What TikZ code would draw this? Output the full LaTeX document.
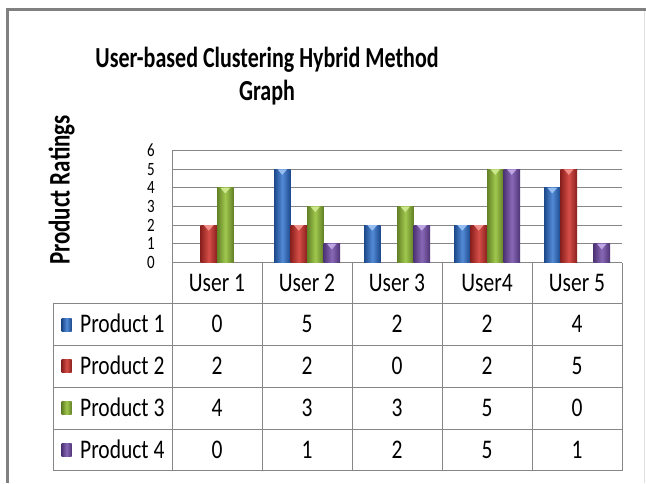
\documentclass[tikz,border=0pt]{standalone}
\usepackage{fontspec}
\setmainfont{Carlito}
\usepackage{graphicx}
\newcommand{\tall}[2][1.25]{\scalebox{1}[#1]{#2}}
\definecolor{gridgray}{RGB}{134,134,134}
\definecolor{framegray}{RGB}{128,128,128}
\definecolor{pblued}{RGB}{28,72,138}
\definecolor{pbluel}{RGB}{82,138,214}
\definecolor{pbluet}{RGB}{150,190,240}
\definecolor{predd}{RGB}{138,32,30}
\definecolor{predl}{RGB}{214,78,72}
\definecolor{predt}{RGB}{240,145,140}
\definecolor{pgreend}{RGB}{98,128,38}
\definecolor{pgreenl}{RGB}{160,200,78}
\definecolor{pgreent}{RGB}{205,232,140}
\definecolor{ppurpled}{RGB}{78,52,118}
\definecolor{ppurplel}{RGB}{136,104,182}
\definecolor{ppurplet}{RGB}{190,165,228}
\newcommand{\drawbar}[4]{%
  \pgfmathsetmacro\xl{184+90*#1+16.5*#2}%
  \pgfmathsetmacro\xr{\xl+16.5}%
  \pgfmathsetmacro\xm{\xl+8.25}%
  \pgfmathsetmacro\yt{262.5-18.63*#3}%
  \shade[left color=#4d, right color=#4d, middle color=#4l] (\xl,\yt) rectangle (\xr,262.5);
  \fill[#4t] (\xl+3.5,\yt) -- (\xr-3.5,\yt) -- (\xm,\yt+5.5) -- cycle;
}
\begin{document}
\begin{tikzpicture}[x=1pt,y=-1pt,
  gridline/.style={draw=gridgray, line width=1pt},
  cell/.style={anchor=base, inner sep=0pt, font=\fontsize{21.5}{24}\selectfont},
  tick/.style={anchor=base, inner sep=0pt, font=\fontsize{15}{17}\selectfont},
  titletext/.style={anchor=base, inner sep=0pt, font=\fontsize{22}{26}\selectfont\bfseries},
  legendbox/.style={inner sep=0pt, minimum width=10pt, minimum height=13pt, draw=none}
]
\useasboundingbox (0,0) rectangle (646,483);
\fill[white] (0,0) rectangle (646,483);
% frame
\draw[framegray, line width=2.5pt] (7.5,483) -- (7.5,9.5) -- (646,9.5);
\draw[gray!25, line width=0.8pt] (644.5,11) -- (644.5,483);
% title
\node[titletext] (t1) at (267,67) {\tall[1.32]{User-based Clustering Hybrid Method}};
\node[titletext] (t2) at (267,100) {\tall[1.32]{Graph}};
% y label
\node[rotate=90, anchor=base, inner sep=0pt, font=\fontsize{23}{26}\selectfont\bfseries] (ylab) at (69.5,190) {\tall[1.3]{Product Ratings}};
% gridlines and ticks
\foreach \k in {0,...,6} {
  \draw[gridline] (172,{262.5-18.63*\k}) -- (622,{262.5-18.63*\k});
  \node[tick] (tick\k) at (151,{262.5-18.63*\k+5.8}) {\tall{\k}};
}
% table lines
\foreach \y in {303.3,345.2,387.1,429.0,470.9}
  \draw[gridline] (53,\y) -- (622,\y);
\draw[gridline] (172,150.7) -- (172,470.9);
\foreach \x in {262,352,442,532,622}
  \draw[gridline] (\x,262.5) -- (\x,470.9);
\draw[gridline] (53,303.3) -- (53,470.9);
% bars
\drawbar{1}{0}{5}{pblue}
\drawbar{2}{0}{2}{pblue}
\drawbar{3}{0}{2}{pblue}
\drawbar{4}{0}{4}{pblue}
\drawbar{0}{1}{2}{pred}
\drawbar{1}{1}{2}{pred}
\drawbar{3}{1}{2}{pred}
\drawbar{4}{1}{5}{pred}
\drawbar{0}{2}{4}{pgreen}
\drawbar{1}{2}{3}{pgreen}
\drawbar{2}{2}{3}{pgreen}
\drawbar{3}{2}{5}{pgreen}
\drawbar{1}{3}{1}{ppurple}
\drawbar{2}{3}{2}{ppurple}
\drawbar{3}{3}{5}{ppurple}
\drawbar{4}{3}{1}{ppurple}
% header
\node[cell] (h1) at (217,291.5) {\tall{User 1}};
\node[cell] (h2) at (307,291.5) {\tall{User 2}};
\node[cell] (h3) at (397,291.5) {\tall{User 3}};
\node[cell] (h4) at (487,291.5) {\tall{User4}};
\node[cell] (h5) at (577,291.5) {\tall{User 5}};
% legend rows
\node[legendbox, left color=pblued, right color=pblued, middle color=pbluel] (s1) at (66.7,324.5) {};
\node[legendbox, left color=predd, right color=predd, middle color=predl] (s2) at (66.7,366.4) {};
\node[legendbox, left color=pgreend, right color=pgreend, middle color=pgreenl] (s3) at (66.7,408.3) {};
\node[legendbox, left color=ppurpled, right color=ppurpled, middle color=ppurplel] (s4) at (66.7,450.2) {};
\node[cell, anchor=base west] (p1) at (80,332.8) {\tall{Product 1}};
\node[cell, anchor=base west] (p2) at (80,374.7) {\tall{Product 2}};
\node[cell, anchor=base west] (p3) at (80,416.6) {\tall{Product 3}};
\node[cell, anchor=base west] (p4) at (80,458.5) {\tall{Product 4}};
% values
\foreach \r/\yb/\vals in {1/332.8/{0,5,2,2,4}, 2/374.7/{2,2,0,2,5}, 3/416.6/{4,3,3,5,0}, 4/458.5/{0,1,2,5,1}} {
  \foreach \v [count=\c from 0] in \vals {
    \node[cell] (v\r-\c) at ({217+90*\c},\yb) {\tall{\v}};
  }
}
\end{tikzpicture}
\end{document}
